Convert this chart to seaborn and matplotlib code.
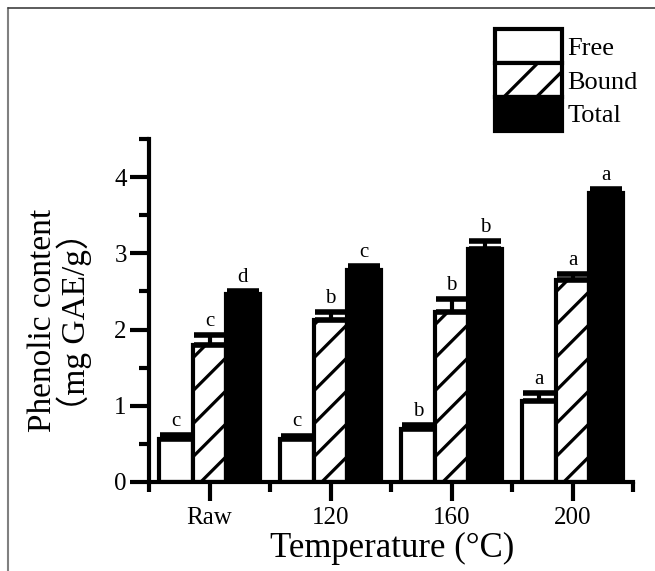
import numpy as np
import pandas as pd
import matplotlib
matplotlib.use('Agg')
import matplotlib.pyplot as plt
import seaborn as sns
from matplotlib.patches import Rectangle, Patch
from matplotlib.lines import Line2D
from matplotlib.legend_handler import HandlerPatch
from matplotlib.ticker import MultipleLocator, FixedLocator

categories = ['Raw', '120', '160', '200']
series = ['Free', 'Bound', 'Total']
free = [0.57, 0.56, 0.70, 1.06]
bound = [1.80, 2.12, 2.23, 2.65]
total = [2.46, 2.78, 3.06, 3.79]
free_err = [0.05, 0.05, 0.05, 0.11]
bound_err = [0.13, 0.11, 0.17, 0.08]
total_err = [0.05, 0.05, 0.10, 0.05]
free_letters = ['c', 'c', 'b', 'a']
bound_letters = ['c', 'b', 'b', 'a']
total_letters = ['d', 'c', 'b', 'a']
y_ticks = [0, 1, 2, 3, 4]

sns.set_style('ticks')
plt.rcParams['font.family'] = ['Liberation Serif', 'Noto Sans CJK SC']
plt.rcParams['text.color'] = 'black'

values = {'Free': free, 'Bound': bound, 'Total': total}
errors = {'Free': free_err, 'Bound': bound_err, 'Total': total_err}
letters = {'Free': free_letters, 'Bound': bound_letters, 'Total': total_letters}

rows = []
for s in series:
    for c, v in zip(categories, values[s]):
        rows.append({'Temperature': c, 'Type': s, 'Value': v})
df = pd.DataFrame(rows)

W, H = 655, 571
fig = plt.figure(figsize=(W / 100, H / 100), dpi=100)
ax = fig.add_axes([149 / W, 89 / H, 484 / W, 343 / H])

sns.barplot(data=df, x='Temperature', y='Value', hue='Type', order=categories,
            hue_order=series,
            palette={'Free': 'white', 'Bound': 'white', 'Total': 'black'},
            edgecolor='black', linewidth=3, width=0.83, saturation=1,
            errorbar=None, legend=False, ax=ax)

ax.set_xlim(-0.5, 3.5)
ax.set_ylim(0, 4.5)
ax.set_yticks(y_ticks)
ax.yaxis.set_minor_locator(MultipleLocator(0.5))
ax.xaxis.set_minor_locator(FixedLocator([-0.5, 0.5, 1.5, 2.5, 3.5]))
ax.set_xlabel('')
ax.set_ylabel('')
sns.despine(ax=ax)
for sp in ['left', 'bottom']:
    ax.spines[sp].set_linewidth(3)
    ax.spines[sp].set_color('black')
ax.tick_params(axis='both', which='major', length=14, width=3, labelsize=18,
               color='black', labelcolor='black')
ax.tick_params(axis='both', which='minor', length=7, width=3, color='black')
ax.tick_params(axis='y', which='major', pad=2)
ax.tick_params(axis='x', which='major', pad=4)

# error bars, letters, custom hatch
for s, cont in zip(series, ax.containers):
    xs, tops = [], []
    for p in cont.patches:
        xs.append(p.get_x() + p.get_width() / 2)
        tops.append(p.get_height())
    err = errors[s]
    ax.errorbar(xs, tops, yerr=[np.zeros(len(err)), err], fmt='none',
                ecolor='black', elinewidth=3, capsize=11.5, capthick=4, zorder=4)
    for x, t, e, l in zip(xs, tops, err, letters[s]):
        ax.annotate(l, xy=(x, t + e), xytext=(0, 3), textcoords='offset points',
                    ha='center', va='bottom', fontsize=15, color='black')
    if s == 'Bound':
        for p in cont.patches:
            x0 = p.get_x(); x1 = x0 + p.get_width(); h = p.get_height()
            (px0, py0) = ax.transData.transform((x0, 0))
            (px1, py1) = ax.transData.transform((x1, h))
            spacing = 33
            inv = ax.transData.inverted()
            c = py0 - px0 - 8 - 2 * spacing
            while c < py1 - px0 + spacing:
                a = inv.transform((px0 - 5, px0 - 5 + c))
                b = inv.transform((px1 + 5, px1 + 5 + c))
                ln, = ax.plot([a[0], b[0]], [a[1], b[1]], color='black', lw=2.3,
                              solid_capstyle='butt', zorder=2)
                ln.set_clip_path(p)
                c += spacing


class HatchHandler(HandlerPatch):
    def create_artists(self, legend, orig_handle, xdescent, ydescent, width,
                       height, fontsize, trans):
        x0, y0 = -xdescent, -ydescent
        rect = Rectangle((x0, y0), width, height,
                         facecolor=orig_handle.get_facecolor(),
                         edgecolor='black', lw=3, transform=trans)
        arts = [rect]
        if getattr(orig_handle, 'diag', False):
            for c in [-6.5, -30]:
                xa = max(0, -c)
                xb = min(width, height - c)
                if xb > xa:
                    arts.append(Line2D([x0 + xa, x0 + xb], [y0 + xa + c, y0 + xb + c],
                                       color='black', lw=2.3, transform=trans))
        return arts


handles = []
for s, fc in zip(series, ['white', 'white', 'black']):
    hp = Patch(facecolor=fc, edgecolor='black', lw=3, label=s)
    hp.diag = (s == 'Bound')
    handles.append(hp)

ax.legend(handles=handles, labels=series, handler_map={Patch: HatchHandler()},
          loc='upper left', bbox_to_anchor=(495 / W, 1 - 29 / H),
          bbox_transform=fig.transFigure, frameon=False, fontsize=19,
          handlelength=2.54, handleheight=1.6, labelspacing=0,
          handletextpad=0.2, borderpad=0, borderaxespad=0)

fig.text(43 / W, 1 - 320 / H, 'Phenolic content', rotation=90, fontsize=24,
         ha='center', va='center', color='black')
fig.text(74 / W, 1 - 322 / H, '（mg GAE/g）', rotation=90, fontsize=24,
         ha='center', va='center', color='black')
fig.text(392 / W, 1 - 548 / H, 'Temperature (°C)', fontsize=25,
         ha='center', va='center', color='black')

fig.add_artist(Line2D([8 / W, 8 / W], [0, 1 - 8 / H], transform=fig.transFigure,
                      color='#808080', lw=1.5))
fig.add_artist(Line2D([8 / W, 1], [1 - 8 / H, 1 - 8 / H], transform=fig.transFigure,
                      color='#404040', lw=1.2))

fig.savefig('out.png', dpi=100)
